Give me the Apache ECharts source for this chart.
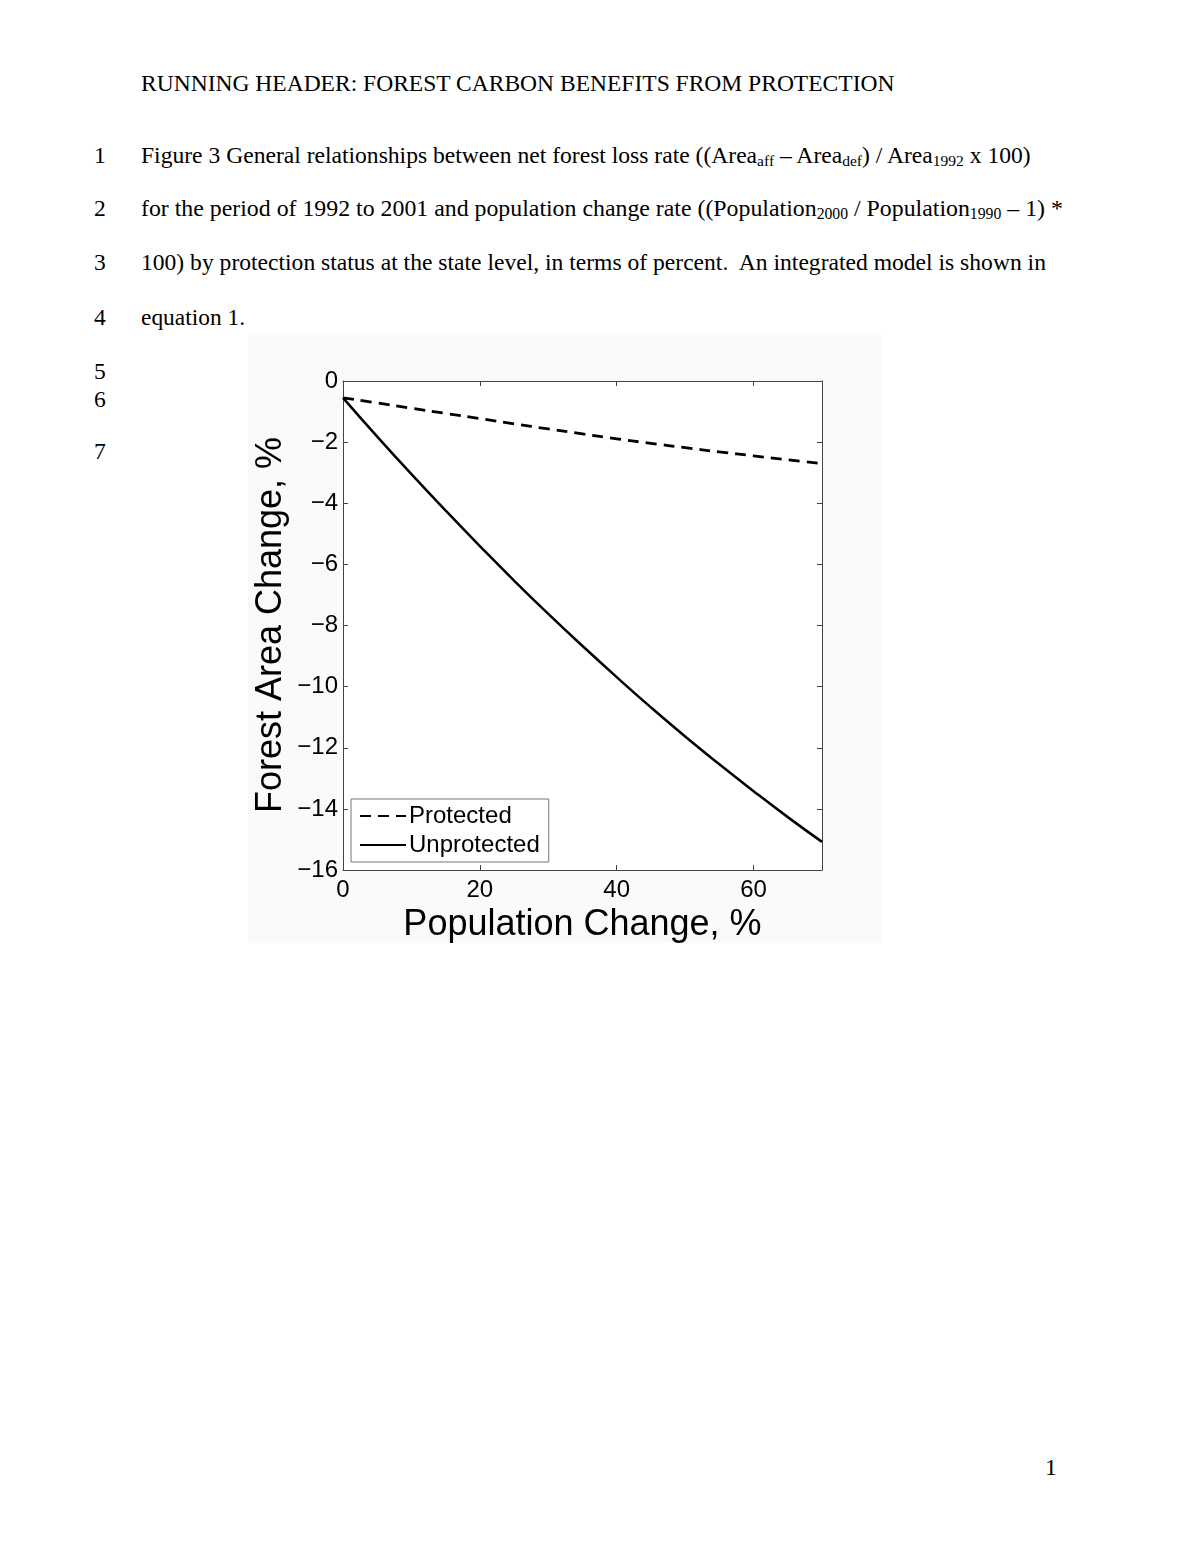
<!DOCTYPE html>
<html>
<head>
<meta charset="utf-8">
<script src="https://cdn.jsdelivr.net/npm/echarts@6/dist/echarts.min.js"></script>
<style>
  html, body { margin: 0; padding: 0; background: #fff; }
  body { width: 1200px; height: 1553px; position: relative; overflow: hidden; }
  .t { position: absolute; font-family: "Liberation Serif", "Times New Roman", serif; font-size: 21px;
       line-height: 21px; color: #000; white-space: nowrap; }
  .t sub { font-size: 0.66em; vertical-align: -0.22em; line-height: 0; }
  #chart { position: absolute; left: 248px; top: 335px; width: 634px; height: 608px; background: #fafafa; }
</style>
</head>
<body>
<div class="t" style="left:141px;top:73px" data-w="754">RUNNING HEADER: FOREST CARBON BENEFITS FROM PROTECTION</div>
<div class="t n" style="left:94px;top:145px">1</div>
<div class="t" style="left:141px;top:145px" data-w="890">Figure 3 General relationships between net forest loss rate ((Area<sub>aff</sub> – Area<sub>def</sub>) / Area<sub>1992</sub> x 100)</div>
<div class="t n" style="left:94px;top:198px">2</div>
<div class="t" style="left:141px;top:198px" data-w="922">for the period of 1992 to 2001 and population change rate ((Population<sub>2000</sub> / Population<sub>1990</sub> – 1) *</div>
<div class="t n" style="left:94px;top:252px">3</div>
<div class="t" style="left:141px;top:252px" data-w="905">100) by protection status at the state level, in terms of percent.&nbsp; An integrated model is shown in</div>
<div class="t n" style="left:94px;top:307px">4</div>
<div class="t" style="left:141px;top:307px" data-w="104">equation 1.</div>
<div class="t n" style="left:94px;top:361px">5</div>
<div class="t n" style="left:94px;top:389px">6</div>
<div class="t n" style="left:94px;top:441px">7</div>
<div class="t n" style="left:1045px;top:1457px">1</div>
<div id="chart"></div>
<script>
// fit the page lines to the widths measured on the reference
let sizes = []
document.querySelectorAll('.t[data-w]').forEach(el => {
    let w = el.getBoundingClientRect().width
    let fs = 21 * (+el.dataset.w) / w
    sizes.push(fs)
    el.style.fontSize = fs.toFixed(2) + 'px'
})
let avg = sizes.reduce((a, b) => a + b, 0) / sizes.length
document.querySelectorAll('.t.n').forEach(el => { el.style.fontSize = avg.toFixed(2) + 'px' })

const popChange = [0, 5, 10, 15, 20, 25, 30, 35, 40, 45, 50, 55, 60, 65, 70];
const protectedVals = [-0.55, -0.72, -0.89, -1.06, -1.23, -1.40, -1.57, -1.73, -1.89, -2.04, -2.18, -2.32, -2.45, -2.58, -2.70];
const unprotectedVals = [-0.55, -1.82, -3.05, -4.24, -5.40, -6.53, -7.62, -8.67, -9.69, -10.68, -11.63, -12.54, -13.42, -14.27, -15.08];
const xTicks = [0, 20, 40, 60];
const yTicks = [0, -2, -4, -6, -8, -10, -12, -14, -16];

const font = '"Liberation Sans", Arial, Helvetica, sans-serif';
const axisColor = '#444';
const minus = v => (v < 0 ? '\u2212' + (-v) : String(v));

let myChart = echarts.init(document.getElementById('chart'), null, { renderer: 'canvas' });

const boxAxis = (extra) => Object.assign({
    type: 'value',
    axisLine: { show: true, onZero: false, lineStyle: { color: axisColor, width: 1 } },
    axisTick: { show: true, inside: true, length: 5, lineStyle: { color: axisColor } },
    splitLine: { show: false }
}, extra);

let option = {
    backgroundColor: '#fafafa',
    animation: false,
    grid: { left: 95, top: 46, width: 479, height: 489, show: true, backgroundColor: '#fff', borderWidth: 0,
            outerBoundsMode: 'none', containLabel: false },
    legend: {
        orient: 'vertical',
        left: 103, top: 464,
        backgroundColor: '#fff',
        borderColor: '#777', borderWidth: 1,
        padding: [5, 9, 5, 8],
        itemGap: 5,
        itemWidth: 46, itemHeight: 14,
        itemStyle: { color: 'transparent', borderWidth: 0, opacity: 0 },
        textStyle: { fontFamily: font, fontSize: 24, color: '#000', padding: [0, 0, 0, -2] },
        data: ['Protected', 'Unprotected']
    },
    // y axis title, placed by hand (the axis name gets pushed by the labels)
    graphic: [{
        type: 'text', x: 23, y: 290, rotation: Math.PI / 2,
        style: { text: 'Forest Area Change, %', fontFamily: font, fontSize: 36, fill: '#000',
                 align: 'center', verticalAlign: 'middle' }
    }],
    xAxis: [
        boxAxis({
            min: 0, max: 70, interval: 20, position: 'bottom',
            name: 'Population Change, %', nameLocation: 'middle', nameGap: 26,
            nameTextStyle: { fontFamily: font, fontSize: 36, color: '#000', verticalAlign: 'top' },
            axisLabel: { fontFamily: font, fontSize: 24, color: '#000', margin: 8, showMaxLabel: false,
                         formatter: v => (xTicks.includes(v) ? minus(v) : '') }
        }),
        boxAxis({ min: 0, max: 70, interval: 20, position: 'top', axisLabel: { show: false } })
    ],
    yAxis: [
        boxAxis({
            min: -16, max: 0, interval: 2, position: 'left',
            axisLabel: { fontFamily: font, fontSize: 24, color: '#000', margin: 5,
                         formatter: v => (yTicks.includes(v) ? minus(v) : '') }
        }),
        boxAxis({ min: -16, max: 0, interval: 2, position: 'right', axisLabel: { show: false } })
    ],
    series: [
        {
            name: 'Protected', type: 'line', symbol: 'none', smooth: true,
            data: popChange.map((x, i) => [x, protectedVals[i]]),
            lineStyle: { color: '#000', width: 2.8, type: [11, 7] },
            itemStyle: { color: '#000' }
        },
        {
            name: 'Unprotected', type: 'line', symbol: 'none', smooth: true,
            data: popChange.map((x, i) => [x, unprotectedVals[i]]),
            lineStyle: { color: '#000', width: 2.5 },
            itemStyle: { color: '#000' }
        }
    ]
};
myChart.setOption(option);
</script>
</body>
</html>
